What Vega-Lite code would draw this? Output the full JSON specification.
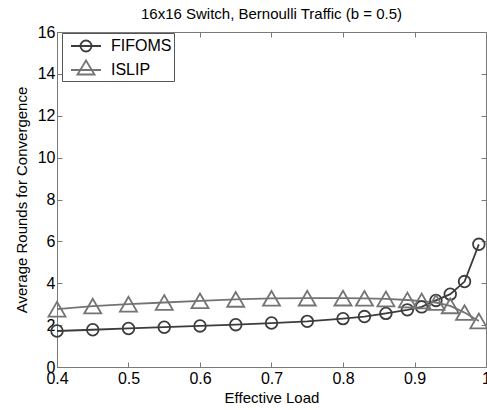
{
  "$schema": "https://vega.github.io/schema/vega-lite/v6.json",
  "autosize": "none",
  "width": 429,
  "height": 335,
  "padding": {"left": 57, "top": 32, "right": 1, "bottom": 43},
  "background": "white",
  "title": {
    "text": "16x16 Switch, Bernoulli Traffic (b = 0.5)",
    "font": "Liberation Sans",
    "fontSize": 15,
    "fontWeight": "normal",
    "color": "black",
    "offset": 2
  },
  "config": {
    "font": "Liberation Sans",
    "view": {"stroke": "#7a7a7a", "strokeWidth": 1},
    "axis": {
      "grid": false,
      "domainColor": "#7a7a7a",
      "tickColor": "#7a7a7a",
      "labelColor": "black",
      "titleColor": "black",
      "labelFont": "Liberation Sans",
      "titleFont": "Liberation Sans",
      "labelFontSize": 16,
      "titleFontSize": 15,
      "titleFontWeight": "normal",
      "tickSize": -5
    }
  },
  "data": {
    "values": [
      {"series": "FIFOMS", "load": 0.4, "rounds": 1.72},
      {"series": "FIFOMS", "load": 0.45, "rounds": 1.78},
      {"series": "FIFOMS", "load": 0.5, "rounds": 1.84},
      {"series": "FIFOMS", "load": 0.55, "rounds": 1.9},
      {"series": "FIFOMS", "load": 0.6, "rounds": 1.96},
      {"series": "FIFOMS", "load": 0.65, "rounds": 2.02},
      {"series": "FIFOMS", "load": 0.7, "rounds": 2.1},
      {"series": "FIFOMS", "load": 0.75, "rounds": 2.18},
      {"series": "FIFOMS", "load": 0.8, "rounds": 2.31},
      {"series": "FIFOMS", "load": 0.83, "rounds": 2.41},
      {"series": "FIFOMS", "load": 0.86, "rounds": 2.56},
      {"series": "FIFOMS", "load": 0.89, "rounds": 2.73},
      {"series": "FIFOMS", "load": 0.91, "rounds": 2.87},
      {"series": "FIFOMS", "load": 0.93, "rounds": 3.18},
      {"series": "FIFOMS", "load": 0.95, "rounds": 3.48},
      {"series": "FIFOMS", "load": 0.97, "rounds": 4.08},
      {"series": "FIFOMS", "load": 0.99, "rounds": 5.86},
      {"series": "ISLIP", "load": 0.4, "rounds": 2.76},
      {"series": "ISLIP", "load": 0.45, "rounds": 2.91},
      {"series": "ISLIP", "load": 0.5, "rounds": 3.0},
      {"series": "ISLIP", "load": 0.55, "rounds": 3.08},
      {"series": "ISLIP", "load": 0.6, "rounds": 3.16},
      {"series": "ISLIP", "load": 0.65, "rounds": 3.23},
      {"series": "ISLIP", "load": 0.7, "rounds": 3.28},
      {"series": "ISLIP", "load": 0.75, "rounds": 3.29},
      {"series": "ISLIP", "load": 0.8, "rounds": 3.29},
      {"series": "ISLIP", "load": 0.83, "rounds": 3.28},
      {"series": "ISLIP", "load": 0.86, "rounds": 3.25},
      {"series": "ISLIP", "load": 0.89, "rounds": 3.2},
      {"series": "ISLIP", "load": 0.91, "rounds": 3.15},
      {"series": "ISLIP", "load": 0.93, "rounds": 3.08},
      {"series": "ISLIP", "load": 0.95, "rounds": 2.92},
      {"series": "ISLIP", "load": 0.97, "rounds": 2.6},
      {"series": "ISLIP", "load": 0.99, "rounds": 2.2}
    ]
  },
  "layer": [
    {
      "encoding": {
        "x": {
          "field": "load",
          "type": "quantitative",
          "scale": {"domain": [0.4, 1], "nice": false, "zero": false},
          "axis": {
            "title": "Effective Load",
            "values": [0.4, 0.5, 0.6, 0.7, 0.8, 0.9, 1],
            "format": "~g",
            "labelPadding": 8,
            "titlePadding": 4,
            "labelFlush": false
          }
        },
        "y": {
          "field": "rounds",
          "type": "quantitative",
          "scale": {"domain": [0, 16], "nice": false},
          "axis": {
            "title": "Average Rounds for Convergence",
            "values": [0, 2, 4, 6, 8, 10, 12, 14, 16],
            "labelPadding": 7,
            "titlePadding": 8
          }
        },
        "color": {
          "field": "series",
          "type": "nominal",
          "scale": {"domain": ["FIFOMS", "ISLIP"], "range": ["#3c3c3c", "#747474"]},
          "legend": null
        }
      },
      "layer": [
        {
          "mark": {"type": "line", "strokeWidth": 1.8}
        },
        {
          "mark": {"type": "point", "filled": false, "strokeWidth": 1.8, "opacity": 1},
          "encoding": {
            "shape": {
              "field": "series",
              "type": "nominal",
              "scale": {"domain": ["FIFOMS", "ISLIP"], "range": ["circle", "triangle-up"]},
              "legend": null
            },
            "size": {
              "field": "series",
              "type": "nominal",
              "scale": {"domain": ["FIFOMS", "ISLIP"], "range": [135, 290]},
              "legend": null
            }
          }
        }
      ]
    },
    {
      "mark": {"type": "point", "opacity": 0},
      "encoding": {
        "x": {
          "field": "load",
          "type": "quantitative",
          "axis": {"title": null, "labels": false, "domain": false, "values": [0.4, 0.5, 0.6, 0.7, 0.8, 0.9, 1]}
        },
        "y": {
          "field": "rounds",
          "type": "quantitative",
          "axis": {"title": null, "labels": false, "domain": false, "values": [0, 2, 4, 6, 8, 10, 12, 14, 16]}
        }
      }
    },
    {
      "transform": [{"filter": "datum.load > 2"}],
      "mark": {"type": "point", "filled": false, "strokeWidth": 1.8, "opacity": 1},
      "encoding": {
        "color": {
          "field": "series",
          "type": "nominal",
          "scale": {"domain": ["FIFOMS", "ISLIP"], "range": ["#3c3c3c", "#747474"]},
          "legend": {
            "title": null,
            "orient": "none",
            "legendX": 5,
            "legendY": 1,
            "padding": 2,
            "strokeColor": "#555555",
            "fillColor": "white",
            "symbolSize": 400,
            "symbolStrokeWidth": 1.8,
            "labelFont": "Liberation Sans",
            "labelFontSize": 16,
            "labelColor": "black",
            "labelOffset": 25,
            "rowPadding": 0
          }
        },
        "shape": {
          "field": "series",
          "type": "nominal",
          "scale": {
            "domain": ["FIFOMS", "ISLIP"],
            "range": [
              "M-0.4,0H2.6M1.65,0A0.55,0.55,0,1,1,0.55,0A0.55,0.55,0,1,1,1.65,0",
              "M-0.4,0H2.6M1.1,-0.95L1.95,0.45L0.25,0.45Z"
            ]
          },
          "legend": {
            "title": null,
            "orient": "none",
            "legendX": 5,
            "legendY": 1,
            "padding": 2,
            "strokeColor": "#555555",
            "fillColor": "white",
            "symbolSize": 400,
            "symbolStrokeWidth": 1.8,
            "labelFont": "Liberation Sans",
            "labelFontSize": 16,
            "labelColor": "black",
            "labelOffset": 25,
            "rowPadding": 0
          }
        }
      }
    }
  ],
  "resolve": {
    "axis": {"x": "independent", "y": "independent"},
    "scale": {"color": "independent", "shape": "independent", "size": "independent"}
  }
}
